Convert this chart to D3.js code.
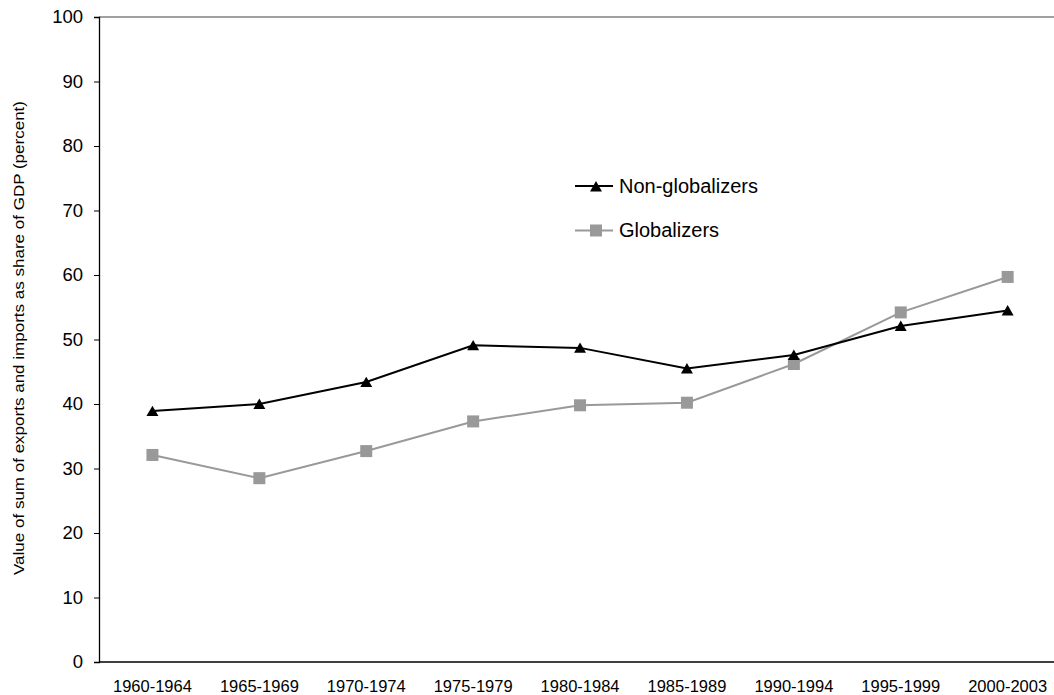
<!DOCTYPE html>
<html>
<head>
<meta charset="utf-8">
<script src="https://cdn.jsdelivr.net/npm/d3@7"></script>
<style>
    body { margin: 0; background: #fff; }
    text { font-family: Arial, "Liberation Sans", sans-serif; }
</style>
</head>
<body>
<svg id="chart" width="1054" height="695"></svg>
<script>
var categories = ["1960-1964", "1965-1969", "1970-1974", "1975-1979", "1980-1984",
    "1985-1989", "1990-1994", "1995-1999", "2000-2003"];
var nonGlobalizers = [38.9, 40.0, 43.4, 49.1, 48.7, 45.5, 47.6, 52.1, 54.5];
var globalizers = [32.1, 28.5, 32.7, 37.3, 39.8, 40.2, 46.2, 54.2, 59.7];
var yTicks = [0, 10, 20, 30, 40, 50, 60, 70, 80, 90, 100];

var plotLeft = 99, plotTop = 17, plotBottom = 662, step = 106.9,
    grey = "#999999";

var svg = d3.select("#chart");

var x = d3.scaleBand()
    .domain(categories)
    .range([plotLeft, plotLeft + step * categories.length]);
var y = d3.scaleLinear().domain([0, 100]).range([plotBottom, plotTop]);

function cx(i) {
    return x(categories[i]) + x.bandwidth() / 2;
}

// top border of plot area
svg.append("line")
    .attr("x1", plotLeft).attr("x2", 1054)
    .attr("y1", plotTop).attr("y2", plotTop)
    .style("stroke", "#808080").style("stroke-width", 1.5);

var yAxis = svg.append("g")
    .attr("transform", "translate(" + plotLeft + ",0)")
    .call(d3.axisLeft(y).tickValues(yTicks).tickSize(5).tickPadding(11));
yAxis.select(".domain").style("stroke", "#000").style("stroke-width", 1.3);
yAxis.selectAll("line").style("stroke", "#000");
yAxis.selectAll("text").style("font-size", "18.5px").style("fill", "#000")
    .style("font-family", "Arial, 'Liberation Sans', sans-serif");

var xAxis = svg.append("g")
    .attr("transform", "translate(0," + plotBottom + ")")
    .call(d3.axisBottom(x).tickSize(0).tickPadding(18));
xAxis.select(".domain").attr("d", "M" + plotLeft + ",0H1054").style("stroke", "#000").style("stroke-width", 1.3);
xAxis.selectAll("text").style("font-size", "16.5px").style("fill", "#000")
    .style("font-family", "Arial, 'Liberation Sans', sans-serif");

svg.append("text")
    .attr("transform", "translate(23.5,338) rotate(-90)")
    .attr("text-anchor", "middle")
    .attr("textLength", 474)
    .attr("lengthAdjust", "spacingAndGlyphs")
    .style("font-size", "14px")
    .text("Value of sum of exports and imports as share of GDP (percent)");

var line = d3.line()
    .x(function(d, i) { return cx(i); })
    .y(function(d) { return y(d); });

var tri = d3.symbol().type(d3.symbolTriangle).size(62);

// globalizers
svg.append("path").datum(globalizers)
    .attr("d", line).style("fill", "none")
    .style("stroke", grey).style("stroke-width", 2);
svg.selectAll("rect.glob").data(globalizers).enter()
    .append("rect").attr("class", "glob")
    .attr("x", function(d, i) { return cx(i) - 6; })
    .attr("y", function(d) { return y(d) - 6; })
    .attr("width", 12).attr("height", 12)
    .style("fill", grey);

// non-globalizers
svg.append("path").datum(nonGlobalizers)
    .attr("d", line).style("fill", "none")
    .style("stroke", "#000").style("stroke-width", 2);
svg.selectAll("path.nonglob").data(nonGlobalizers).enter()
    .append("path").attr("class", "nonglob")
    .attr("d", tri)
    .attr("transform", function(d, i) {
        return "translate(" + cx(i) + "," + (y(d) + 1.5) + ")";
    })
    .style("fill", "#000");

// legend
var legend = svg.append("g");
legend.append("line").attr("x1", 575).attr("x2", 613).attr("y1", 186).attr("y2", 186)
    .style("stroke", "#000").style("stroke-width", 2);
legend.append("path").attr("d", tri).attr("transform", "translate(596,188)").style("fill", "#000");
legend.append("text").attr("x", 619).attr("y", 193).style("font-size", "20px").text("Non-globalizers");

legend.append("line").attr("x1", 575).attr("x2", 613).attr("y1", 230.5).attr("y2", 230.5)
    .style("stroke", grey).style("stroke-width", 2);
legend.append("rect").attr("x", 590).attr("y", 224.5).attr("width", 12).attr("height", 12).style("fill", grey);
legend.append("text").attr("x", 619).attr("y", 237).style("font-size", "20px").text("Globalizers");
</script>
</body>
</html>
